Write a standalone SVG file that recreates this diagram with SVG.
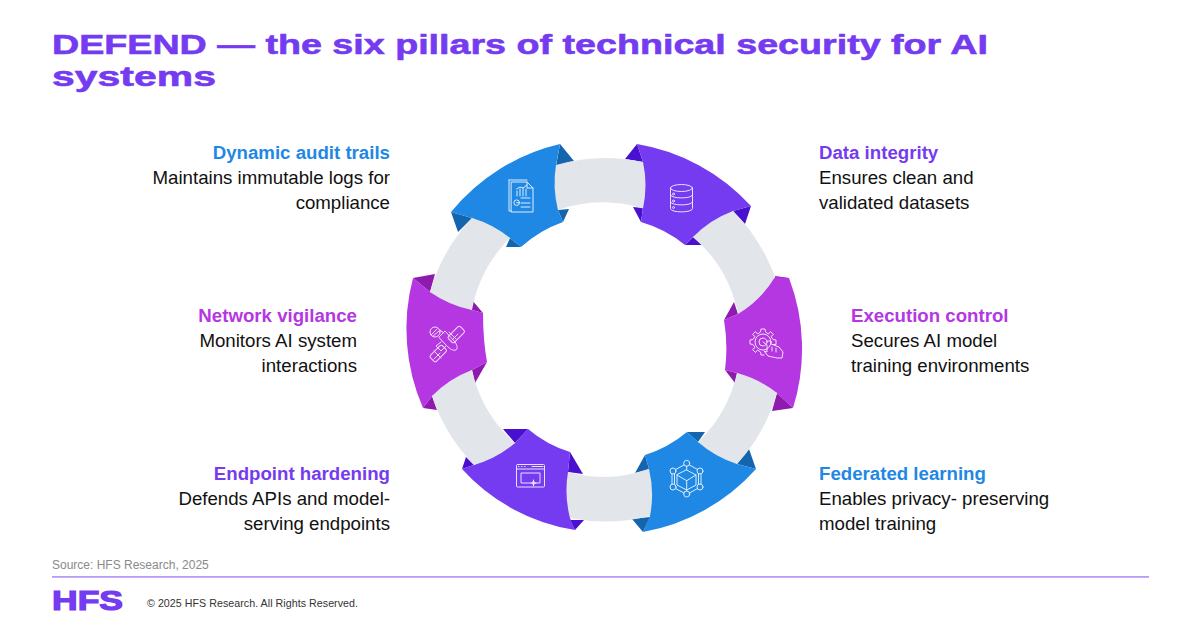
<svg xmlns="http://www.w3.org/2000/svg" width="1200" height="627" viewBox="0 0 1200 627">
<style>
text{font-family:"Liberation Sans",Arial,sans-serif}
.title{font-size:28px;font-weight:700;fill:#753bf0;stroke:#753bf0;stroke-width:.6}
.h{font-size:18.67px;font-weight:700}
.b{font-size:18.67px;fill:#111}
.r{text-anchor:end}
.ring{fill:#e2e6eb}
.blue{fill:#1f88e5}.bluek{fill:#1565ae}
.vio{fill:#753bf0}.viok{fill:#4a10cf}
.mag{fill:#b537e2}.magk{fill:#8e1aae}
.tb{fill:#1f88e5}.tv{fill:#753bf0}.tm{fill:#b537e2}
.ic{fill:none;stroke:#fff;stroke-width:1;stroke-linecap:round;stroke-linejoin:round;opacity:.85}
</style>
<rect width="1200" height="627" fill="#fff"/>
<g id="title">
<text class="title" x="52" y="54" textLength="936" lengthAdjust="spacingAndGlyphs">DEFEND — the six pillars of technical security for AI</text>
<text class="title" x="52" y="86" textLength="164" lengthAdjust="spacingAndGlyphs">systems</text>
</g>
<g id="node-audit">
<path class="bluek" d="M560,144 574,161 556,166ZM563,222 569,209 558,210ZM451,212 458,232 472,218ZM521,247 506,247 510,238Z"/>
<path class="blue" d="M451,212A199,199 0 0 1 560,144L556,165 558,210 563,222A124.500,124.500 0 0 0 521,247L510,238 472,218Z"/>
<g class="ic"><path d="M509,180H527M509,180V211H511M511.500,182H527L533,188V212H511.500ZM527,182V188H533"/><path d="M517,196V191M520,196V189M523,196V188M526,196V189M516.500,189 520,187 523,188 527,185"/><circle cx="516.700" cy="202.700" r="2.800"/><path d="M516.700,202.700H519M521,198H530M521,203H530M521,207H530"/></g>
<text class="h tb r" x="390" y="158.500">Dynamic audit trails</text>
<text class="b r" x="390" y="183.500">Maintains immutable logs for</text>
<text class="b r" x="390" y="208.500">compliance</text>
</g>
<g id="node-data">
<path class="viok" d="M637,144 625,159 643,162ZM641,222 633,207 643,208ZM751,206 745,224 733,211ZM685,245 702,245 693,237Z"/>
<path class="vio" d="M637,144A198,198 0 0 1 751,206L733,211 693,237 685,245A123,123 0 0 0 641,222L643,208 643,162Z"/>
<g class="ic"><ellipse cx="681.500" cy="188" rx="11" ry="3.500"/><path d="M670.500,188V208.500C670.500,213 692.500,213 692.500,208.500V188M670.500,195C670.500,199 692.500,199 692.500,195M670.500,202C670.500,206 692.500,206 692.500,202"/><circle cx="673.500" cy="194" r="1"/><circle cx="673.500" cy="201" r="1"/><circle cx="673.500" cy="207.500" r="1"/></g>
<text class="h tv" x="819" y="158.500">Data integrity</text>
<text class="b" x="819" y="183.500">Ensures clean and</text>
<text class="b" x="819" y="208.500">validated datasets</text>
</g>
<g id="node-execution">
<path class="magk" d="M775,276 789,278 778,290ZM793,408 772,411 777,393ZM725,370 735,383 737,373ZM724,320 734,302 738,314Z"/>
<path class="mag" d="M789,278A198,198 0 0 1 793,408L777,393 737,373 725,370A170,170 0 0 0 724,320L738,314 775,277Z"/>
<g class="ic"><path d="M773,344.500H776V340L773,339.500 771,336.500 773.500,334.500 770.500,331.500 768.500,334 765.500,332 765,329H761L760.500,332 757.500,334 755.500,331.500 752.500,334.500 755,336.500 753,339.500 750,340V344L753,344.500 755,347.500 752.500,349.500 755.500,352.500 757.500,350 760.500,352 761,355H764"/><circle cx="763" cy="342" r="8"/><circle cx="763" cy="342" r="4"/><path d="M763,342 767,345V352L764,351 768,356 777,358 782,358 783,352 779,347 771,344V341L767,341"/><path d="M772,347V351M776,348V352"/></g>
<text class="h tm" x="851" y="321.500">Execution control</text>
<text class="b" x="851" y="346.500">Secures AI model</text>
<text class="b" x="851" y="371.500">training environments</text>
</g>
<g id="node-federated">
<path class="bluek" d="M756,469 749,449 737,464ZM687,432 705,432 698,442ZM645,455 635,473 649,469ZM643,532 632,519 650,517Z"/>
<path class="blue" d="M756,469A198,198 0 0 1 643,532L650,516 649,469 645,455A122,122 0 0 0 687,432L698,442 737,464Z"/>
<g class="ic"><path d="M686.700,470 696,475V485L686.700,490 677,485V475ZM677,475 686.700,480.700 696,475M686.700,480.700V490M686.700,466V470M686.700,490V491M684,465 675.500,469.500M689.500,465 697.500,469.500M684,493 675.500,488.500M689.500,493 697.500,488.500M672,474V484M674.500,474V484M698.500,474V484M701,474V484"/><circle cx="686.700" cy="463.300" r="3"/><circle cx="673" cy="471" r="3"/><circle cx="700" cy="471" r="3"/><circle cx="673" cy="487" r="3"/><circle cx="700" cy="487" r="3"/><circle cx="686.700" cy="494" r="3"/></g>
<text class="h tb" x="819" y="479.500">Federated learning</text>
<text class="b" x="819" y="504.500">Enables privacy- preserving</text>
<text class="b" x="819" y="529.500">model training</text>
</g>
<g id="node-endpoint">
<path class="viok" d="M462,469 466,457 474,465ZM503,429 528,429 515,443ZM570,452 583,474 568,472ZM575,530 584,520 570,520Z"/>
<path class="vio" d="M462,469 474,465 515,443 528,429A118,118 0 0 0 570,452L568,472 570,518 575,530A193,193 0 0 1 462,469Z"/>
<g class="ic"><rect x="516.500" y="464.500" width="28" height="22.500" rx="1"/><path d="M516.500,469H544.500M518.500,466.500H519M521.500,466.500H522M524.500,466.500H525M532,466.500H543"/><path d="M531,483H521V473H540V483H536"/><path d="M533.500,480V486M531,483H536"/><circle cx="533.500" cy="483" r="1.500"/></g>
<text class="h tv r" x="390" y="479.500">Endpoint hardening</text>
<text class="b r" x="390" y="504.500">Defends APIs and model-</text>
<text class="b r" x="390" y="529.500">serving endpoints</text>
</g>
<g id="node-network">
<path class="magk" d="M413,278 435,274 430,292ZM483,313 472,300 472,310ZM487,362 475,383 472,370ZM423,408 437,410 432,396Z"/>
<path class="mag" d="M413,278A198,198 0 0 0 423,408L432,396 472,370 487,362Q483,340 483,313L472,310 430,292Z"/>
<g class="ic"><path d="M439,337 445,331 455,342C457,345 458,348 456,350 453,351 450,349 447,346Z"/><path d="M441,342 436,346 441,351 446,346"/><circle cx="435" cy="332" r="5"/><path d="M431,335 437,329M433,336 439,331M440,330 444,333"/><rect x="452" y="326" width="8.500" height="17" rx="2" transform="rotate(45 456.250 334.500)"/><rect x="434" y="345" width="8.500" height="17" rx="2" transform="rotate(45 438.250 353.500)"/><path d="M452,340 458,334M434,359 440,353M434,351 441,358M449,332 456,339"/></g>
<text class="h tm r" x="357" y="321.500">Network vigilance</text>
<text class="b r" x="357" y="346.500">Monitors AI system</text>
<text class="b r" x="357" y="371.500">interactions</text>
</g>
<g id="connectors">
<path class="ring" d="M556,165A181.500,181.500 0 0 1 643,162A110,110 0 0 1 643,208.500A136.500,136.500 0 0 0 558,210A110,110 0 0 1 556,165Z"/>
<path class="ring" d="M733,211A181.500,181.500 0 0 1 775,277A110,110 0 0 1 738,314A136.500,136.500 0 0 0 693,237A110,110 0 0 1 733,211Z"/>
<path class="ring" d="M777,393A181.500,181.500 0 0 1 737,464A110,110 0 0 1 698,442A136.500,136.500 0 0 0 737,373A110,110 0 0 1 777,393Z"/>
<path class="ring" d="M650,516A181.500,181.500 0 0 1 570,518A110,110 0 0 1 568,472A136.500,136.500 0 0 0 649,469A110,110 0 0 1 650,516Z"/>
<path class="ring" d="M474,465A181.500,181.500 0 0 1 432,396A110,110 0 0 1 472,370A136.500,136.500 0 0 0 515,443A110,110 0 0 1 474,465Z"/>
<path class="ring" d="M430,292A181.500,181.500 0 0 1 472,218A110,110 0 0 1 510,238A136.500,136.500 0 0 0 472,310A110,110 0 0 1 430,292Z"/>
</g>
<g id="footer">
<text x="52" y="569" font-size="12" fill="#8a8a8a">Source: HFS Research, 2025</text>
<rect x="52" y="576" width="1097" height="1.800" fill="#b79cf5"/>
<text x="52" y="609.500" font-size="27" font-weight="700" fill="#753bf0" stroke="#753bf0" stroke-width="1.200" textLength="71" lengthAdjust="spacingAndGlyphs">HFS</text>
<text x="147" y="607" font-size="10.670" fill="#333" textLength="211">© 2025 HFS Research. All Rights Reserved.</text>
</g>
</svg>
